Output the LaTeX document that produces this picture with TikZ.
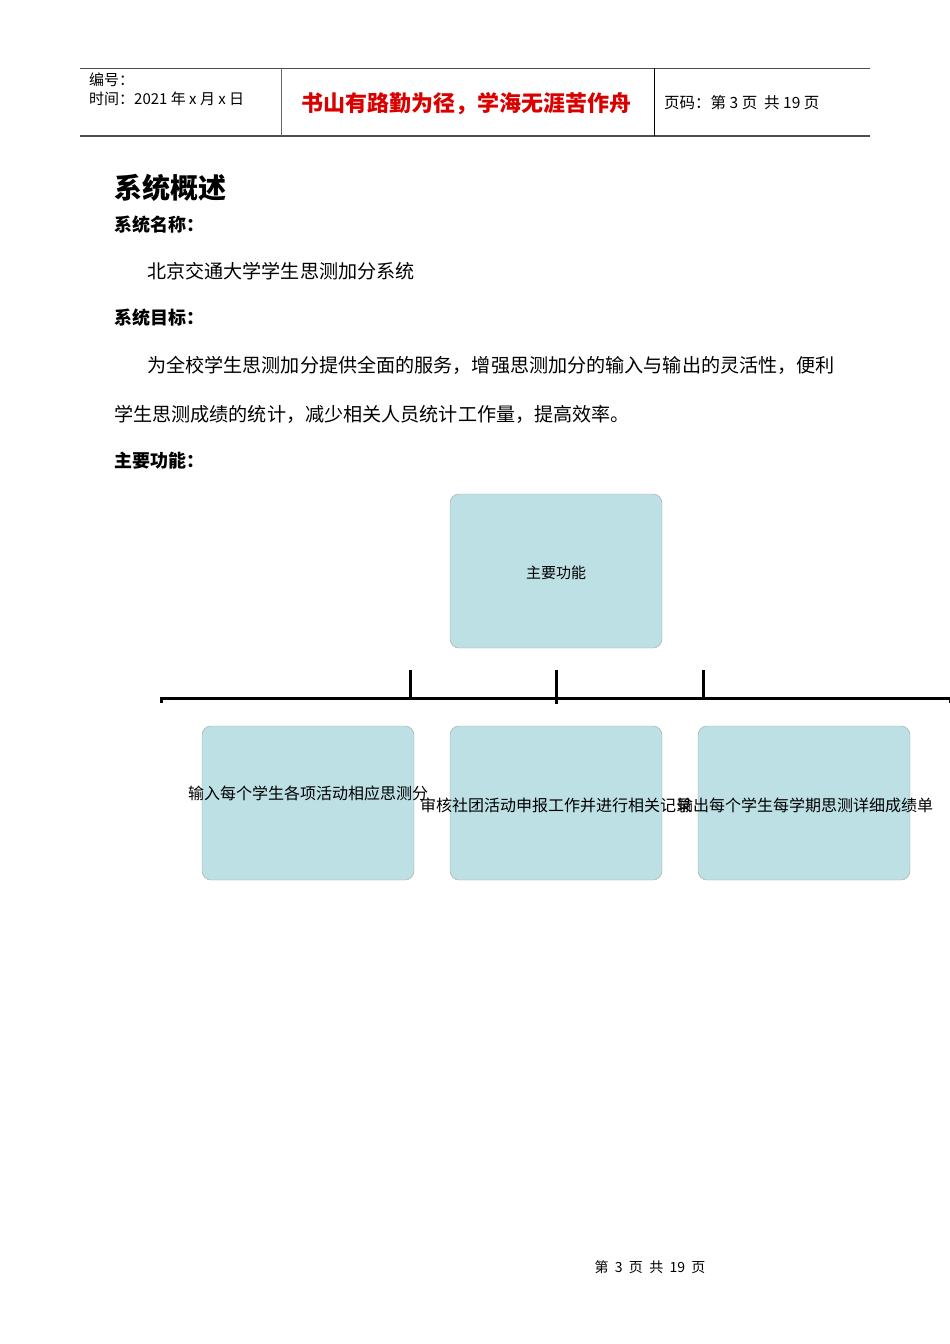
\documentclass[tikz,border=0pt]{standalone}
\usepackage{fontspec}
\setmainfont{Liberation Sans}
\newfontfamily\cjk{Noto Sans CJK SC}
\definecolor{boxfill}{HTML}{BCE0E3}
\begin{document}
\begin{tikzpicture}[x=1pt,y=-1pt,
  box/.style={draw=black!35,fill=boxfill,rounded corners=9pt,minimum width=212pt,minimum height=154pt,inner sep=0pt},
  bar/.style={line width=3pt},
  t/.style={anchor=west,inner sep=0pt,font=\cjk\fontsize{19.1}{19.1}\selectfont},
  lab/.style={font=\cjk\fontsize{16}{16}\selectfont}]
\useasboundingbox (0,0) rectangle (950,1344);
\fill[white] (0,0) rectangle (950,1344);
% header
\draw[black!70,line width=1pt] (80,68) -- (870,68);
\draw[black!70,line width=1.5pt] (80,136) -- (870,136);
\draw[black!60] (281,68) -- (281,136);
\draw[black] (654,68) -- (654,136);
\node[t,font=\cjk\fontsize{15}{15}\selectfont] (h1) at (89,80) {编号：};
\node[t,font=\cjk\fontsize{15}{15}\selectfont] (h2) at (89,99) {时间：2021 年 x 月 x 日};
\node[t,font=\cjk\bfseries\fontsize{22}{22}\selectfont,text=red!85!black] (h3) at (301,104) {书山有路勤为径，学海无涯苦作舟};
\node[t,font=\cjk\fontsize{15.5}{15.5}\selectfont] (h4) at (664,103) {页码：第 3 页\ \ 共 19 页};
% body
\node[t,font=\cjk\bfseries\fontsize{28}{28}\selectfont] (title) at (114,188) {系统概述};
\node[t,font=\cjk\bfseries\fontsize{18}{18}\selectfont] (l1) at (114,225) {系统名称：};
\node[t] (l2) at (147,271) {北京交通大学学生思测加分系统};
\node[t,font=\cjk\bfseries\fontsize{18}{18}\selectfont] (l3) at (114,318) {系统目标：};
\node[t] (l4) at (147,365) {为全校学生思测加分提供全面的服务，增强思测加分的输入与输出的灵活性，便利};
\node[t] (l5) at (114,414) {学生思测成绩的统计，减少相关人员统计工作量，提高效率。};
\node[t,font=\cjk\bfseries\fontsize{18}{18}\selectfont] (l6) at (114,461) {主要功能：};
% chart
\node[box] (top) at (556,571) {};
\node[font=\cjk\fontsize{15}{15}\selectfont] (topl) at (556,573) {主要功能};
\node[box] (b1) at (308,803) {};
\node[box] (b2) at (556,803) {};
\node[box] (b3) at (804,803) {};
\draw[bar] (161,703) -- (161,698) -- (950,698) -- (950,703);
\draw[bar] (410,670) -- (410,698);
\draw[bar] (556,670) -- (556,704);
\draw[bar] (703,670) -- (703,698);
\node[lab] (b1l) at (308,793) {输入每个学生各项活动相应思测分};
\node[lab] (b2l) at (556,805) {审核社团活动申报工作并进行相关记录};
\node[lab] (b3l) at (805,805) {输出每个学生每学期思测详细成绩单};
% footer
\node[font=\cjk\fontsize{14}{14}\selectfont] (foot) at (650,1267) {第\ \ 3\ \ 页\ \ 共\ \ 19\ \ 页};
\end{tikzpicture}
\end{document}
